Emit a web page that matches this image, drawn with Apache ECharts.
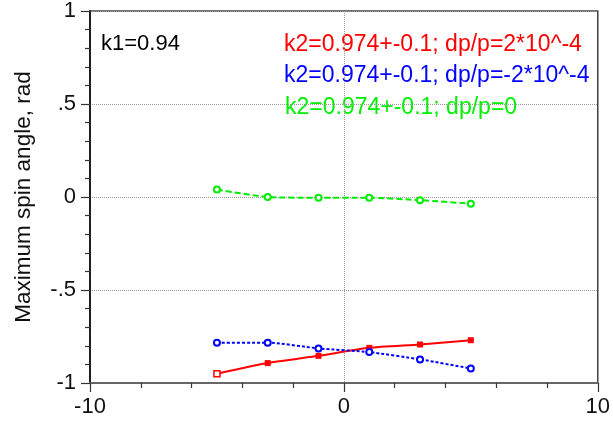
<!DOCTYPE html>
<html>
<head>
<meta charset="utf-8">
<script src="https://cdn.jsdelivr.net/npm/echarts@6/dist/echarts.min.js"></script>
<style>
html,body{margin:0;padding:0;background:#fff;}
#c{width:613px;height:426px;}
</style>
</head>
<body>
<div id="c"></div>
<script>
var xValues = [-5, -3, -1, 1, 3, 5];
var redValues = [-0.950, -0.893, -0.854, -0.811, -0.793, -0.770];
var blueValues = [-0.783, -0.783, -0.814, -0.834, -0.873, -0.922];
var greenValues = [0.040, 0.000, -0.004, -0.004, -0.017, -0.036];
var seriesNames = ['k2=0.974+-0.1; dp/p=2*10^-4', 'k2=0.974+-0.1; dp/p=-2*10^-4', 'k2=0.974+-0.1; dp/p=0'];
var annotation = 'k1=0.94';
var yTitle = 'Maximum spin angle, rad';
var yTickLabels = {'1': '1', '0.5': '.5', '0': '0', '-0.5': '-.5', '-1': '-1'};

function pairs(ys) { return xValues.map(function (x, i) { return [x, ys[i]]; }); }

var FONT = '"Liberation Sans", Arial, sans-serif';
var chart = echarts.init(document.getElementById('c'), null, {renderer: 'canvas'});

var redData = pairs(redValues);
redData[0] = {value: redData[0], itemStyle: {color: '#fff', borderColor: '#ff0000', borderWidth: 1.5}};

chart.setOption({
  animation: false,
  backgroundColor: '#fff',
  grid: {left: 90, right: 15, top: 9, bottom: 43, show: true, borderColor: '#444', borderWidth: 1.5, backgroundColor: 'transparent'},
  xAxis: {
    type: 'value', min: -10, max: 10, interval: 10,
    axisLine: {show: true, onZero: false, lineStyle: {color: '#666', width: 2}},
    axisTick: {show: true, inside: false, length: 9, lineStyle: {color: '#333', width: 1.2}},
    minorTick: {show: true, splitNumber: 5, length: 5, lineStyle: {color: '#333', width: 1.2}},
    axisLabel: {fontFamily: FONT, fontSize: 22, color: '#111', margin: 13},
    splitLine: {show: true, lineStyle: {color: '#999', type: 'dotted', width: 1}}
  },
  yAxis: {
    type: 'value', min: -1, max: 1, interval: 0.5,
    name: yTitle, nameLocation: 'middle', nameRotate: 90, nameGap: 55,
    nameTextStyle: {fontFamily: FONT, fontSize: 22.5, color: '#111'},
    axisLine: {show: true, onZero: false, lineStyle: {color: '#000', width: 1.5}},
    axisTick: {show: true, inside: false, length: 9, lineStyle: {color: '#333', width: 1.2}},
    minorTick: {show: true, splitNumber: 5, length: 5, lineStyle: {color: '#333', width: 1.2}},
    axisLabel: {fontFamily: FONT, fontSize: 22, color: '#111', margin: 14,
      formatter: function (v) { var k = String(Math.round(v * 10) / 10); return yTickLabels[k] !== undefined ? yTickLabels[k] : k; }},
    splitLine: {show: true, lineStyle: {color: '#999', type: 'dotted', width: 1}}
  },
  series: [
    {name: seriesNames[0], type: 'line', data: redData, smooth: 0.2, symbol: 'rect', symbolSize: 6,
      lineStyle: {color: '#ff0000', width: 2, type: 'solid'}, itemStyle: {color: '#ff0000'}},
    {name: seriesNames[1], type: 'line', data: pairs(blueValues), smooth: 0.2, symbol: 'emptyCircle', symbolSize: 6,
      lineStyle: {color: '#0000ff', width: 2, type: [3, 2]}, itemStyle: {color: '#0000ff', borderWidth: 2}},
    {name: seriesNames[2], type: 'line', data: pairs(greenValues), smooth: 0.2, symbol: 'emptyCircle', symbolSize: 6,
      lineStyle: {color: '#00ee00', width: 2, type: [6, 3]}, itemStyle: {color: '#00ee00', borderWidth: 2}}
  ],
  graphic: [
    {type: 'text', left: 101, top: 33, style: {text: annotation, font: '22px ' + FONT, fill: '#000'}},
    {type: 'text', left: 284, top: 33, style: {text: seriesNames[0], font: '23px ' + FONT, fill: '#ff0000'}},
    {type: 'text', left: 284, top: 64.5, style: {text: seriesNames[1], font: '23px ' + FONT, fill: '#0000ff'}},
    {type: 'text', left: 285, top: 96, style: {text: seriesNames[2], font: '23px ' + FONT, fill: '#00ee00'}}
  ]
});
</script>
</body>
</html>
